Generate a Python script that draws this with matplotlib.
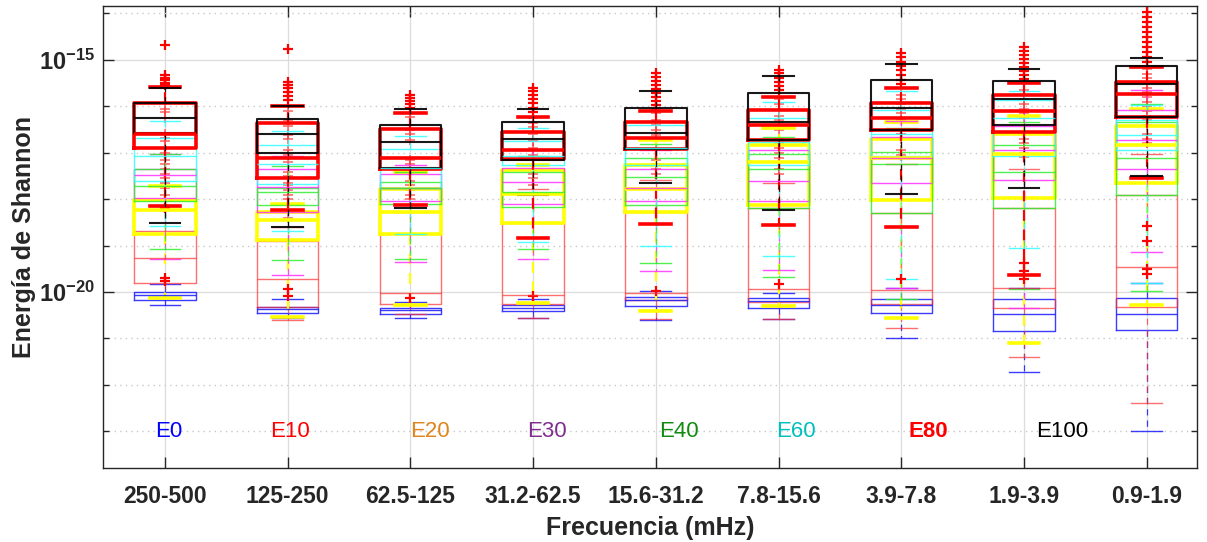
import numpy as np
import matplotlib
matplotlib.use("Agg")
import matplotlib.pyplot as plt

plt.rcParams['font.family'] = ['Liberation Sans', 'DejaVu Sans']
plt.rcParams['mathtext.fontset'] = 'custom'
plt.rcParams['mathtext.rm'] = 'Liberation Sans'
plt.rcParams['mathtext.bf'] = 'Liberation Sans:bold'

# Frequency bands (mHz)
bands = ['250-500', '125-250', '62.5-125', '31.2-62.5', '15.6-31.2',
         '7.8-15.6', '3.9-7.8', '1.9-3.9', '0.9-1.9']
series_names = ['E0', 'E10', 'E20', 'E30', 'E40', 'E60', 'E80', 'E100']

# log10(Shannon energy) per band: [upper whisker, q3, median, q1, lower whisker]
e0 = [[-19.83, -20.15, -20.22, -20.15, -19.98, -20.02, -19.91, -19.91, -19.81],
      [-20.00, -20.32, -20.35, -20.28, -20.11, -20.13, -20.15, -20.15, -20.13],
      [-20.06, -20.37, -20.39, -20.35, -20.17, -20.19, -20.28, -20.48, -20.48],
      [-20.17, -20.45, -20.48, -20.41, -20.30, -20.35, -20.45, -20.84, -20.82],
      [-20.28, -20.56, -20.56, -20.56, -20.61, -20.58, -21.00, -21.73, -22.99]]
e10 = [[-18.14, -18.59, -18.27, -17.79, -17.58, -17.66, -17.25, -17.34, -17.03],
       [-18.68, -18.90, -18.74, -18.51, -18.27, -18.20, -18.29, -18.20, -17.90],
       [-19.26, -19.72, -20.02, -20.06, -20.02, -19.94, -19.96, -19.91, -19.46],
       [-19.81, -20.32, -20.26, -20.26, -20.17, -20.22, -20.26, -20.35, -20.32],
       [-20.13, -20.61, -20.48, -20.56, -20.58, -20.58, -20.78, -21.39, -22.38]]
e20 = [[-17.71, -18.10, -17.42, -17.27, -16.73, -16.47, -16.34, -16.21, -16.06],
       [-18.01, -18.27, -17.79, -17.38, -17.27, -16.84, -16.71, -16.60, -16.43],
       [-18.23, -18.44, -18.27, -17.88, -17.79, -17.21, -17.12, -17.03, -16.84],
       [-18.74, -18.87, -18.74, -18.51, -18.27, -18.12, -18.01, -17.97, -17.66],
       [-20.13, -20.54, -20.28, -20.24, -20.41, -20.30, -20.56, -21.10, -20.28]]
e30 = [[-17.03, -17.08, -17.27, -16.95, -16.95, -16.71, -16.32, -16.08, -15.65],
       [-17.34, -17.36, -17.45, -17.32, -17.34, -16.95, -16.67, -16.43, -16.08],
       [-17.49, -17.73, -17.75, -17.64, -17.77, -17.60, -17.12, -16.95, -16.73],
       [-17.97, -18.27, -18.03, -18.10, -18.03, -18.03, -17.66, -17.58, -17.34],
       [-19.29, -19.63, -19.35, -19.29, -19.55, -19.52, -19.91, -20.35, -19.13]]
e40 = [[-17.03, -17.29, -17.42, -17.08, -16.82, -16.67, -16.47, -16.34, -15.95],
       [-17.34, -17.75, -17.64, -17.42, -17.12, -17.03, -16.99, -16.84, -16.34],
       [-17.71, -17.84, -17.77, -17.84, -17.53, -17.36, -17.25, -17.42, -17.12],
       [-18.05, -18.12, -18.10, -18.16, -18.12, -18.20, -18.29, -18.20, -17.90],
       [-19.07, -19.31, -19.29, -19.07, -19.37, -19.68, -20.15, -19.94, -19.98]]
e60 = [[-16.32, -16.54, -16.65, -16.47, -16.08, -15.91, -15.67, -15.67, -15.97],
       [-16.69, -16.84, -16.93, -16.75, -16.41, -16.26, -16.08, -15.87, -16.30],
       [-17.08, -17.25, -17.32, -17.06, -16.90, -16.77, -16.60, -16.26, -16.62],
       [-17.60, -17.68, -17.75, -17.27, -17.27, -17.27, -17.06, -17.06, -16.95],
       [-18.57, -18.68, -18.74, -18.92, -19.00, -19.22, -19.72, -19.05, -19.81]]
e80 = [[-15.58, -16.00, -16.15, -16.23, -16.10, -15.80, -15.61, -15.50, -15.15],
       [-15.93, -16.36, -16.49, -16.56, -16.34, -16.08, -15.93, -15.76, -15.48],
       [-16.60, -17.12, -17.12, -16.95, -16.69, -16.41, -16.26, -16.10, -15.74],
       [-16.90, -17.55, -17.34, -17.14, -16.93, -16.73, -16.52, -16.56, -16.23],
       [-18.14, -18.23, -18.12, -18.83, -18.53, -18.55, -18.61, -19.63, -17.55]]
e100 = [[-15.61, -16.00, -16.06, -16.06, -15.67, -15.35, -15.09, -15.19, -14.96],
        [-15.93, -16.28, -16.41, -16.34, -16.04, -15.71, -15.43, -15.45, -15.13],
        [-16.26, -16.60, -16.77, -16.71, -16.58, -16.34, -16.04, -15.84, -15.52],
        [-16.58, -17.01, -17.32, -17.16, -16.93, -16.73, -16.52, -16.41, -16.23],
        [-18.51, -18.61, -18.20, -17.90, -17.66, -18.23, -17.88, -17.77, -17.51]]

# log10 outliers per band
e10_out = [
    [-16.05, -16.12, -16.25, -16.60, -16.68, -16.75, -16.90, -17.00, -17.15,
     -17.25, -17.35, -17.45, -17.55, -17.65, -17.75, -17.90, -18.00, -18.05],
    [-16.10, -16.30, -16.42, -16.62, -16.70, -16.95, -17.05, -17.20, -17.42,
     -17.50, -17.65, -17.70, -17.80, -17.90, -18.00, -18.40],
    [-16.15, -16.22, -16.40, -16.50, -16.60, -16.72, -17.15, -17.25, -17.40,
     -17.60, -17.70, -17.80, -17.90, -18.00],
    [-16.25, -16.35, -16.45, -16.60, -16.75, -16.90, -17.05, -17.15, -17.35,
     -17.45, -17.55, -17.70],
    [-16.05, -16.15, -16.30, -16.40, -16.50, -16.62, -16.72, -16.95, -17.15,
     -17.25, -17.35, -17.45],
    [-15.85, -15.95, -16.20, -16.30, -16.50, -16.70, -16.80, -16.90, -17.00,
     -17.12, -17.35, -17.45],
    [-15.75, -15.85, -15.95, -16.05, -16.15, -16.30, -16.60, -16.70, -16.95,
     -17.05],
    [-15.65, -15.75, -15.85, -15.95, -16.05, -16.15, -16.25, -16.60, -16.70,
     -16.80, -16.90, -17.00, -17.10],
    [-15.20, -15.30, -15.40, -15.50, -15.60, -15.70, -15.80, -15.90, -16.00,
     -16.10, -16.20, -16.30, -16.40, -16.60, -16.70, -16.80],
]
e80_out = [
    [-14.68, -15.32, -15.39, -15.43, -15.50, -15.54, -18.20, -19.70, -19.76],
    [-14.76, -15.48, -15.54, -15.61, -15.69, -15.78, -15.87, -19.94, -20.09],
    [-15.76, -15.82, -15.89, -15.95, -16.04, -20.13],
    [-15.61, -15.67, -15.76, -15.84, -15.93, -16.04, -16.13, -20.09],
    [-15.28, -15.37, -15.45, -15.54, -15.63, -15.71, -15.80, -15.89, -15.97, -19.98],
    [-15.22, -15.28, -15.39, -15.48, -15.56, -15.65, -19.83],
    [-14.85, -14.94, -15.04, -15.13, -15.22, -15.32, -15.43, -15.52, -19.72],
    [-14.72, -14.81, -14.89, -14.98, -15.06, -15.15, -15.24, -15.32, -15.41,
     -19.37, -19.55, -19.72],
    [-13.96, -14.07, -14.18, -14.29, -14.39, -14.50, -14.61, -14.72, -14.83,
     -14.94, -15.04, -18.57, -18.90, -19.50, -19.61],
]

# text labels for each series
label_x = [0.92, 1.86, 3.0, 3.95, 5.03, 5.98, 7.06, 8.1]
label_colors = ['#0000ff', '#ff0000', '#e0851c', '#7e2f8e', '#108a10',
                '#00bfbf', '#ff0000', '#000000']

all_stats = [e0, e10, e20, e30, e40, e60, e80, e100]
all_fliers = [None, e10_out, None, None, None, None, e80_out, None]
box_colors = ['#1a1aff', '#ff3030', '#ffff00', '#ff30ff', '#30ee30',
              '#30ffff', '#ff0000', '#000000']
box_lw = [1.0, 1.0, 2.6, 1.0, 1.0, 1.0, 2.6, 1.5]
box_alpha = [0.85, 0.7, 1.0, 0.85, 0.85, 0.85, 1.0, 0.9]

fig = plt.figure(figsize=(12.07, 5.42), dpi=100)
ax = fig.add_axes([103/1207, 1 - 468/542, (1197 - 103)/1207, (468 - 6)/542])
ax.set_yscale('log')

positions = np.arange(1, len(bands) + 1)

for stats, fl, col, lw, al in zip(all_stats, all_fliers, box_colors, box_lw, box_alpha):
    hi, q3, med, q1, lo = [np.asarray(s) for s in stats]
    bxp_stats = []
    for i in range(len(bands)):
        bxp_stats.append({
            'whishi': 10.0 ** hi[i], 'q3': 10.0 ** q3[i], 'med': 10.0 ** med[i],
            'q1': 10.0 ** q1[i], 'whislo': 10.0 ** lo[i],
            'fliers': 10.0 ** np.asarray(fl[i]) if fl is not None else np.array([]),
        })
    ax.bxp(bxp_stats, positions=positions, widths=0.5, capwidths=0.25,
           showfliers=True, manage_ticks=False,
           boxprops=dict(color=col, linewidth=lw, alpha=al),
           medianprops=dict(color=col, linewidth=lw, alpha=al),
           whiskerprops=dict(color=col, linewidth=max(lw * 0.6, 0.9),
                             linestyle=(0, (5, 4)), alpha=al),
           capprops=dict(color=col, linewidth=lw, alpha=al),
           flierprops=dict(marker='+', markeredgecolor=col, markersize=7,
                           markeredgewidth=1.2 if lw < 2 else 1.6,
                           linestyle='none', alpha=al))

ax.set_xlim(0.495, 9.41)
ax.set_ylim(10 ** -23.79, 10 ** -13.84)

# ticks
ax.set_xticks(positions)
ax.set_xticklabels(bands, fontsize=16.5, fontweight='bold', color='#262626')
ax.set_yticks([1e-20, 1e-15])
ax.set_yticklabels([r'$\mathbf{10^{-20}}$', r'$\mathbf{10^{-15}}$'],
                   fontsize=17, color='#262626')
minor_decades = [10.0 ** k for k in (-23, -22, -21, -19, -18, -17, -16, -14)]
ax.set_yticks(minor_decades, minor=True)
ax.set_yticklabels([''] * len(minor_decades), minor=True)
ax.xaxis.set_minor_locator(matplotlib.ticker.NullLocator())
ax.tick_params(axis='both', which='major', direction='in', length=8, width=1,
               top=True, right=True, color='#262626')
ax.tick_params(axis='y', which='minor', direction='in', length=4.5, width=1,
               left=True, right=True, color='#262626')
ax.tick_params(axis='x', which='major', pad=12)
ax.tick_params(axis='y', which='major', pad=6)

# grid
ax.grid(True, which='major', color='#dcdcdc', linewidth=0.9, linestyle='-')
ax.grid(True, which='minor', axis='y', color='#c8c8c8', linewidth=1.0,
        linestyle=(0, (1, 3)))
ax.set_axisbelow(True)

for sp in ax.spines.values():
    sp.set_color('#262626')
    sp.set_linewidth(1.0)

ax.set_xlabel('Frecuencia (mHz)', fontsize=18, fontweight='bold',
              color='#262626', labelpad=6)
ax.set_ylabel('Energía de Shannon', fontsize=18, fontweight='bold',
              color='#262626', labelpad=2)

for name, x, c in zip(series_names, label_x, label_colors):
    ax.text(x, 1e-23, name, color=c, fontsize=16,
            fontweight='bold' if name == 'E80' else 'normal',
            ha='left', va='center')

fig.savefig('out.png', dpi=100)
